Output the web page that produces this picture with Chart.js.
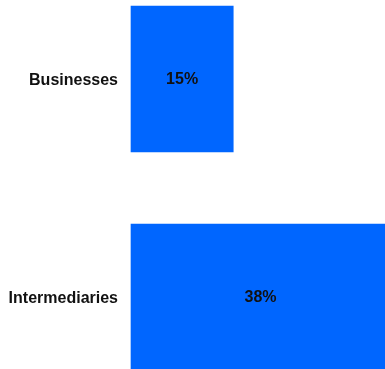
<!DOCTYPE html>
<html>
<head>
<meta charset="utf-8">
<title>Share by channel</title>
<script src="https://cdn.jsdelivr.net/npm/chart.js@4"></script>
<style>
  html, body {
    margin: 0;
    padding: 0;
    background: #ffffff;
    overflow: hidden;
  }
  #wrap {
    width: 390px;
    height: 369px;
  }
</style>
</head>
<body>
<div id="wrap"><canvas id="shareChart"></canvas></div>
<script>
// Categories and their shares (percent)
const CATEGORIES = ["Businesses", "Intermediaries"];
const SHARES = [15, 38];

const BAR_COLOR = "#0066FF";
const FONT = "'Liberation Sans', Arial, Helvetica, sans-serif";

// Draws the percentage in the middle of each bar
const barValueLabels = {
  id: "barValueLabels",
  afterDatasetsDraw(chart) {
    const ctx = chart.ctx;
    const meta = chart.getDatasetMeta(0);
    ctx.save();
    ctx.font = "bold 16px " + FONT;
    ctx.fillStyle = "#111111";
    ctx.textAlign = "center";
    ctx.textBaseline = "middle";
    meta.data.forEach((bar, i) => {
      const cx = (bar.x + bar.base) / 2;
      ctx.fillText(SHARES[i] + "%", cx, bar.y + 1);
    });
    ctx.restore();
  },
};

new Chart(document.getElementById("shareChart"), {
  type: "bar",
  data: {
    labels: CATEGORIES,
    datasets: [
      {
        data: SHARES,
        backgroundColor: BAR_COLOR,
        borderWidth: 0,
        barThickness: 146,
        clip: false,
      },
    ],
  },
  options: {
    indexAxis: "y",
    responsive: true,
    maintainAspectRatio: false,
    animation: false,
    layout: {
      padding: { top: 79, bottom: 72, left: 0, right: 0 },
    },
    plugins: {
      legend: { display: false },
      tooltip: { enabled: false },
    },
    scales: {
      x: {
        display: false,
        min: 0,
        max: 38,
      },
      y: {
        offset: false,
        grid: { display: false, drawTicks: false },
        border: { display: false },
        ticks: {
          padding: 13,
          labelOffset: 2,
          color: "#111111",
          font: { family: FONT, size: 16, weight: "bold" },
        },
        afterFit(scale) {
          scale.width = 131;
        },
      },
    },
  },
  plugins: [barValueLabels],
});
</script>
</body>
</html>
